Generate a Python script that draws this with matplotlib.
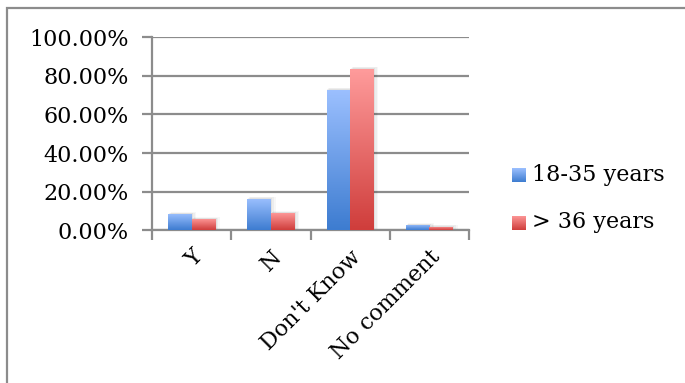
import numpy as np
import matplotlib
matplotlib.use("Agg")
import matplotlib.pyplot as plt
import matplotlib.transforms as mtransforms
from matplotlib.patches import Rectangle
from matplotlib.colors import LinearSegmentedColormap

categories = ["Y", "N", "Don't Know", "No comment"]
series_names = ["18-35 years", "> 36 years"]
young = [8.5, 16.3, 72.6, 2.8]
older = [5.9, 9.0, 83.5, 1.8]
y_ticks = [0, 20, 40, 60, 80, 100]
y_tick_labels = ["0.00%", "20.00%", "40.00%", "60.00%", "80.00%", "100.00%"]

plt.rcParams["font.family"] = ["DejaVu Serif"]
FS = 16

W, H = 685, 383
fig = plt.figure(figsize=(W / 100, H / 100), dpi=100)
ax = fig.add_axes([152 / W, 1 - 230.5 / H, (469 - 152) / W, (230.5 - 37) / H])

blue_cmap = LinearSegmentedColormap.from_list("b", ["#3d7cd0", "#9cc0ff"])
red_cmap = LinearSegmentedColormap.from_list("r", ["#cf3d3b", "#ff9c9c"])
grad = np.linspace(0, 1, 256).reshape(-1, 1)

x = np.arange(len(categories)) + 0.5
bw = 0.296

def gradient_bars(xs, vals, cmap):
    bars = ax.bar(xs, vals, width=bw, align="edge", color="none",
                  edgecolor="none", zorder=3)
    for b in bars:
        x0, y0 = b.get_x(), b.get_y()
        w, h = b.get_width(), b.get_height()
        # soft drop shadow
        for k, a in enumerate([0.05, 0.04, 0.03]):
            ax.add_patch(Rectangle((x0 + 0.01 * (k + 1), y0), w + 0.01 * (k + 1),
                                   h + 0.4 * (k + 1), facecolor="black",
                                   edgecolor="none", alpha=a, zorder=2))
        im = ax.imshow(grad, extent=(x0, x0 + w, y0, y0 + h), origin="lower",
                       cmap=cmap, aspect="auto", zorder=3)
        im.set_clip_path(b)
    return bars

gradient_bars(x - bw, young, blue_cmap)
gradient_bars(x, older, red_cmap)

ax.set_xlim(0, len(categories))
ax.set_ylim(0, 100)
ax.set_yticks(y_ticks)
ax.set_yticklabels(y_tick_labels, fontsize=FS)
ax.yaxis.grid(True, color="#8c8c8c", linewidth=1.6, zorder=1)
ax.set_axisbelow(True)

ax.set_xticks(x)
ax.set_xticklabels(categories, fontsize=FS, rotation=45, ha="right",
                   rotation_mode="anchor")
shift = mtransforms.ScaledTranslation(-5 / 100, 0, fig.dpi_scale_trans)
for lbl in ax.get_xticklabels():
    lbl.set_transform(lbl.get_transform() + shift)
ax.set_xticks(np.arange(len(categories) + 1), minor=True)
ax.tick_params(axis="x", which="major", length=0, pad=11)
ax.tick_params(axis="x", which="minor", length=7, width=1.6, color="#8c8c8c",
               direction="out")
ax.tick_params(axis="y", length=7, width=1.6, color="#8c8c8c", pad=10)

for side in ["top", "right"]:
    ax.spines[side].set_visible(False)
for side in ["left", "bottom"]:
    ax.spines[side].set_color("#8c8c8c")
    ax.spines[side].set_linewidth(1.6)

# legend swatches with the same gradient fill
for i, (name, cmap) in enumerate(zip(series_names, [blue_cmap, red_cmap])):
    yc = 175 + i * 47.5
    sax = fig.add_axes([512 / W, 1 - (yc + 7) / H, 13 / W, 14 / H])
    sax.imshow(grad, origin="lower", cmap=cmap, aspect="auto",
               extent=(0, 1, 0, 1))
    sax.axis("off")
    fig.text(532 / W, 1 - yc / H, name, fontsize=FS, va="center", ha="left")

# outer frame
fig.patches.append(Rectangle((7 / W, -0.1), 1.1, 1 - 8 / H + 0.1,
                             transform=fig.transFigure, fill=False,
                             edgecolor="#8c8c8c", linewidth=1.6,
                             clip_on=False))

fig.savefig("out.png", dpi=100)
